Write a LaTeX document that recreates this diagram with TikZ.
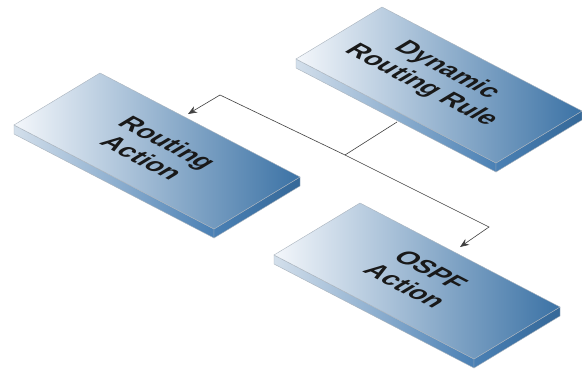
\documentclass[tikz,border=0pt]{standalone}
\usepackage{fontspec}
\setmainfont{Liberation Sans}
\usetikzlibrary{arrows.meta}
\definecolor{topL}{HTML}{F4F7FB}
\definecolor{topR}{HTML}{3B72A5}
\definecolor{sideL}{HTML}{D3DFEB}
\definecolor{sideR}{HTML}{4A80B4}
\definecolor{sideD}{HTML}{356898}
\definecolor{edgec}{HTML}{A9B3BD}
\tikzset{
  slabtext/.style={transform shape, cm={0.887,-0.461,0.856,0.517,(0,0)},
    align=center, inner sep=0pt, text=black!90,
    font=\fontsize{26}{30}\selectfont\bfseries},
  conn/.style={draw=black!75, line width=0.6pt},
  arr/.style={conn, -{Stealth[length=9pt,width=7pt]}}
}
\newcommand\drawslab[2]{%
\begin{scope}[shift={(#1,#2)}]
  \shade[left color=sideL, right color=sideR, draw=edgec, line width=0.4pt]
    (0,0) -- (200,104) -- (200,113) -- (0,9) -- cycle;
  \shade[left color=sideR, right color=sideD, draw=edgec, line width=0.4pt]
    (200,104) -- (286,52) -- (286,61) -- (200,113) -- cycle;
  \shade[left color=topL, right color=topR, draw=edgec, line width=0.4pt]
    (0,0) -- (86,-52) -- (286,52) -- (200,104) -- cycle;
\end{scope}}
\begin{document}
\begin{tikzpicture}[x=1pt,y=-1pt]
\useasboundingbox (0,0) rectangle (582,370);
\fill[white] (0,0) rectangle (582,370);
% slabs
\drawslab{296}{59}
\drawslab{14}{125}
\drawslab{274}{255}
% labels
\begin{scope}[shift={(434,78)}]
  \node[slabtext] (dyn) {Dynamic\\Routing Rule};
\end{scope}
\begin{scope}[shift={(155,150)}]
  \node[slabtext] (rta) {Routing\\Action};
\end{scope}
\begin{scope}[shift={(418,278)}]
  \node[slabtext] (ospf) {OSPF\\Action};
\end{scope}
% connectors
\coordinate (s1) at (397,122);
\coordinate (j) at (345,155);
\coordinate (c2) at (220,95);
\coordinate (t2) at (188,114);
\coordinate (c3) at (489,227);
\coordinate (t3) at (460,247);
\draw[conn] (s1) -- (j);
\draw[arr] (j) -- (c2) -- (t2);
\draw[arr] (j) -- (c3) -- (t3);
\end{tikzpicture}
\end{document}
